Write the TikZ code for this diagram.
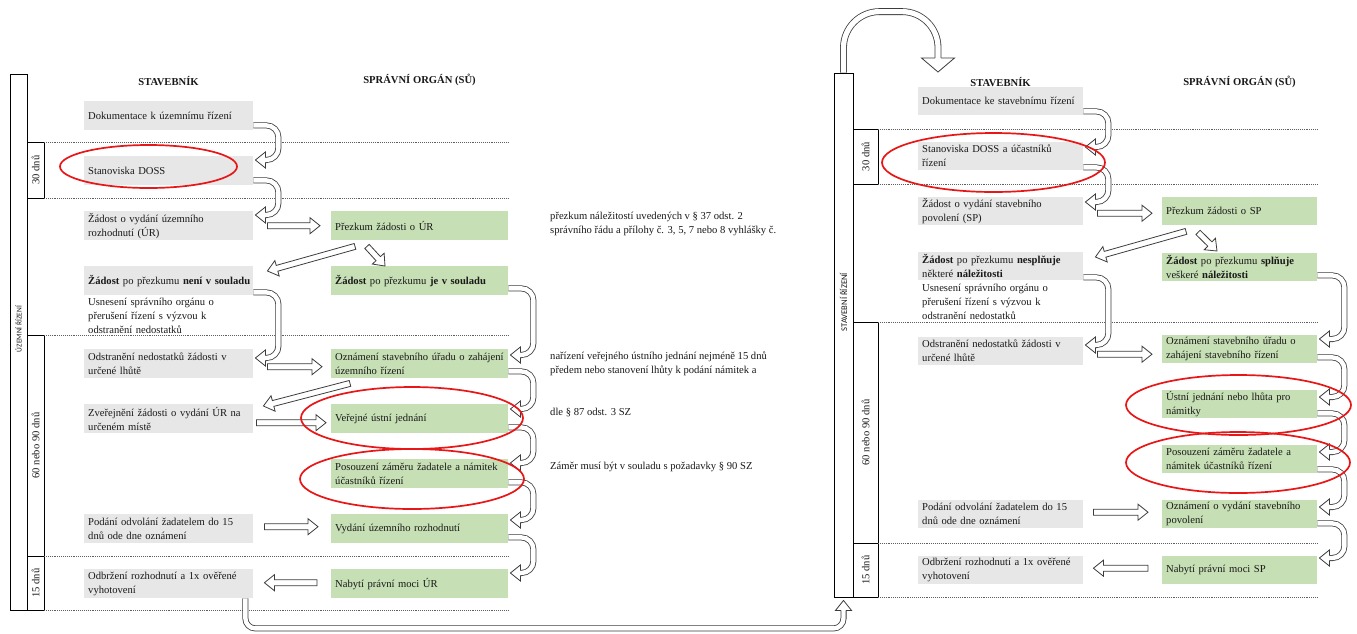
\documentclass[tikz,border=0pt]{standalone}
\usepackage{fontspec}
\setmainfont{Liberation Serif}
\newfontfamily\lblfont{Carlito}
\usetikzlibrary{calc}

\definecolor{boxgray}{RGB}{231,231,231}
\definecolor{boxgreen}{RGB}{198,223,180}
\definecolor{acol}{RGB}{60,60,60}
\definecolor{txt}{RGB}{25,25,25}
\definecolor{dotcol}{RGB}{95,95,95}
\definecolor{ellred}{RGB}{232,22,22}

% straight block arrow between two named coordinates
\newcommand\blockarrow[2]{%
  \draw[barrow] let \p1=(#1), \p2=(#2),
     \n1={atan2(\y2-\y1,\x2-\x1)}, \n2={veclen(\x2-\x1,\y2-\y1)} in
     (\p1) ++(\n1+90:3pt) -- ++(\n1:\n2*1pt-10pt) -- ++(\n1+90:5pt) -- (\p2)
     -- ++(\n1+218.66:12.806pt) -- ++(\n1+90:5pt) -- ++(\n1+180:\n2*1pt-10pt) -- cycle;
}
% U-shaped arrow from one box to the next one below
\newcommand\hookarrow[3]{%
  \draw[hook] #1 -- ++(#3,0) |- #2;
  \pic[rotate=180] at #2 {ahead};
}

\begin{document}
\begin{tikzpicture}[x=1pt,y=-1pt,
  every node/.style={font=\fontsize{10.6}{14}\selectfont, text=txt},
  lg/.style={fill=boxgray, anchor=north west, inner xsep=4pt, inner ysep=0pt,
             minimum height=29pt, text width=161pt, align=left},
  lgr/.style={lg, fill=boxgreen, text width=169pt},
  rg/.style={lg, minimum height=28pt, text width=157pt},
  rgr/.style={rg, fill=boxgreen, text width=147pt},
  plain/.style={anchor=west, inner xsep=4pt, inner ysep=0pt, align=left},
  note/.style={anchor=west, inner sep=0pt, align=left},
  head/.style={font=\bfseries\fontsize{10.6}{14}\selectfont},
  bar/.style={draw=black, fill=white, line width=0.8pt, inner sep=0pt},
  tbox/.style={bar, rotate=90, minimum height=17pt},
  barlabel/.style={rotate=90, inner sep=0pt},
  dotline/.style={draw=dotcol, line width=0.7pt, dash pattern=on 0.8pt off 1.1pt},
  shaft/.style={draw=acol, line width=0.8pt, double=white, double distance=4.4pt},
  hook/.style={shaft, rounded corners=12pt, shorten >=9pt},
  barrow/.style={draw=acol, fill=white, line width=0.8pt, line join=miter},
  ell/.style={draw=ellred, line width=1.7pt},
  pics/ahead/.style={code={
    \fill[white] (0,0) -- (-10,8) -- (-10,-8) -- cycle;
    \draw[acol, line width=0.8pt, line join=miter]
      (-10,2.6) -- (-10,8) -- (0,0) -- (-10,-8) -- (-10,-2.6);
  }},
  pics/bighead/.style={code={
    \fill[white] (0,0) -- (-14,16.5) -- (-14,-16.5) -- cycle;
    \draw[acol, line width=0.8pt, line join=miter]
      (-14,3.0) -- (-14,16.5) -- (0,0) -- (-14,-16.5) -- (-14,-3.0);
  }},
]
\fill[white] (0,0) rectangle (1357,633);
\useasboundingbox (0,0) rectangle (1357,633);

% ---------------- left panel: územní řízení ----------------
\node[bar, minimum width=17pt, minimum height=536pt] (Lbar) at (18.5,342) {};
\node[barlabel, font=\lblfont\fontsize{7.4}{8}\selectfont] (Llab) at (18.5,329) {ÚZEMNÍ ŘÍZENÍ};
\node[tbox, minimum width=56pt] (L30) at (35.5,170) {30 dnů};
\node[tbox, minimum width=221pt] (L60) at (35.5,445.5) {60 nebo 90 dnů};
\node[tbox, minimum width=54pt] (L15) at (35.5,583) {15 dnů};

\foreach \yy in {142,198,335,556,610}
  \draw[dotline] (44,\yy) -- (508,\yy);

\node[head] (LhS) at (168.5,81) {STAVEBNÍK};
\node[head] (LhO) at (419.5,80) {SPRÁVNÍ ORGÁN (SŮ)};

\node[lg] (Ldok) at (84,101) {Dokumentace k územnímu řízení};
\node[lg] (Lstan) at (84,156) {Stanoviska DOSS};
\node[lg] (Lzad) at (84,211) {Žádost o vydání územního\\rozhodnutí (ÚR)};
\node[lg] (Lnes) at (84,266) {\mbox{\textbf{Žádost} po přezkumu \textbf{není v souladu}}};
\node[plain, text width=161pt] (Luns) at (84,316) {Usnesení správního orgánu o\\přerušení řízení s výzvou k\\odstranění nedostatků};
\node[lg] (Lods) at (84,349) {Odstranění nedostatků žádosti v\\určené lhůtě};
\node[lg] (Lzve) at (84,404) {Zveřejnění žádosti o vydání ÚR na\\určeném místě};
\node[lg] (Lpod) at (84,514) {Podání odvolání žadatelem do 15\\dnů ode dne oznámení};
\node[lg] (Lodb) at (84,569) {Odbržení rozhodnutí a 1x ověřené\\vyhotovení};

\node[lgr] (Lpre) at (331,211) {Přezkum žádosti o ÚR};
\node[lgr] (Lsou) at (331,266) {\textbf{Žádost} po přezkumu \textbf{je v souladu}};
\node[lgr] (Lozn) at (331,349) {Oznámení stavebního úřadu o zahájení\\územního řízení};
\node[lgr] (Lver) at (331,404) {Veřejné ústní jednání};
\node[lgr] (Lpos) at (331,459) {Posouzení záměru žadatele a námitek\\účastníků řízení};
\node[lgr] (Lvyd) at (331,514) {Vydání územního rozhodnutí};
\node[lgr] (Lnab) at (331,569) {Nabytí právní moci ÚR};

\node[note] (N1) at (550,223.5) {přezkum náležitostí uvedených v § 37 odst. 2\\správního řádu a přílohy č. 3, 5, 7 nebo 8 vyhlášky č.};
\node[note] (N2) at (550,363.5) {nařízení veřejného ústního jednání nejméně 15 dnů\\předem nebo stanovení lhůty k podání námitek a};
\node[note] (N3) at (550,412) {dle § 87 odst. 3 SZ};
\node[note] (N4) at (550,467) {Záměr musí být v souladu s požadavky § 90 SZ};

% hooks in the applicant column
\hookarrow{([yshift=5pt]Ldok.south east)}{([xshift=2pt,yshift=-4pt]Lstan.north east)}{25}
\hookarrow{([yshift=5pt]Lstan.south east)}{([xshift=2pt,yshift=-4pt]Lzad.north east)}{25}
\hookarrow{([yshift=3pt]Lnes.south east)}{([xshift=2pt,yshift=-9pt]Lods.north east)}{25}
% hooks in the authority column
\hookarrow{([yshift=7pt]Lsou.south east)}{([xshift=2pt,yshift=-6pt]Lozn.north east)}{25}
\hookarrow{([yshift=7pt]Lozn.south east)}{([xshift=2pt,yshift=-5pt]Lver.north east)}{25}
\hookarrow{([yshift=6pt]Lver.south east)}{([xshift=2pt,yshift=-4pt]Lpos.north east)}{25}
\hookarrow{([yshift=6pt]Lpos.south east)}{([xshift=2pt,yshift=-6pt]Lvyd.north east)}{25}
\hookarrow{([yshift=6pt]Lvyd.south east)}{([xshift=2pt,yshift=-4pt]Lnab.north east)}{25}

% straight arrows between the columns
\coordinate (s1a) at ([xshift=14pt]Lzad.east);
\coordinate (s1b) at ([xshift=-11pt]Lpre.west);
\coordinate (s2a) at ([xshift=14pt,yshift=-3pt]Lods.east);
\coordinate (s2b) at ([xshift=-9pt,yshift=-3pt]Lozn.west);
\coordinate (s3a) at ([xshift=3pt,yshift=-4pt]Lzve.east);
\coordinate (s3b) at ([xshift=-5pt,yshift=-4pt]Lver.west);
\coordinate (s4a) at ([xshift=11pt,yshift=2pt]Lpod.east);
\coordinate (s4b) at ([xshift=-13pt,yshift=2pt]Lvyd.west);
\coordinate (s5a) at ([xshift=-14pt,yshift=1pt]Lnab.west);
\coordinate (s5b) at ([xshift=11pt,yshift=1pt]Lodb.east);
\coordinate (d1a) at ([xshift=24pt,yshift=-6pt]Lpre.south west);
\coordinate (d1b) at ([xshift=14pt,yshift=-5pt]Lnes.north east);
\coordinate (d2a) at ([xshift=36pt,yshift=-6pt]Lpre.south west);
\coordinate (d2b) at ([xshift=54pt]Lsou.north west);
\coordinate (d3a) at ([xshift=19pt,yshift=-5pt]Lozn.south west);
\coordinate (d3b) at ([xshift=10pt,yshift=-2pt]Lzve.north east);
\blockarrow{s1a}{s1b}
\blockarrow{s2a}{s2b}
\blockarrow{s3a}{s3b}
\blockarrow{s4a}{s4b}
\blockarrow{s5a}{s5b}
\blockarrow{d1a}{d1b}
\blockarrow{d2a}{d2b}
\blockarrow{d3a}{d3b}

% ---------------- right panel: stavební řízení ----------------
\node[bar, minimum width=19pt, minimum height=524pt] (Rbar) at (843.5,335) {};
\node[barlabel, font=\lblfont\fontsize{8.6}{9}\selectfont] (Rlab) at (843.5,302) {STAVEBNÍ ŘÍZENÍ};
\node[tbox, minimum width=55pt, minimum height=25pt] (R30) at (865.5,156.5) {30 dnů};
\node[tbox, minimum width=221pt, minimum height=25pt] (R60) at (865.5,432.5) {60 nebo 90 dnů};
\node[tbox, minimum width=54pt, minimum height=25pt] (R15) at (865.5,570) {15 dnů};

\foreach \yy in {129,184,322,543,597}
  \draw[dotline] (878,\yy) -- (1317,\yy);

\node[head] (RhS) at (1000.5,82) {STAVEBNÍK};
\node[head] (RhO) at (1239.5,82) {SPRÁVNÍ ORGÁN (SŮ)};

\node[rg] (Rdok) at (918,87) {Dokumentace ke stavebnímu řízení};
\node[rg] (Rstan) at (918,142) {Stanoviska DOSS a účastníků\\řízení};
\node[rg] (Rzad) at (918,197) {Žádost o vydání stavebního\\povolení (SP)};
\node[rg] (Rnes) at (918,252) {\textbf{Žádost} po přezkumu \textbf{nesplňuje}\\některé \textbf{náležitosti}};
\node[plain, text width=157pt] (Runs) at (918,302) {Usnesení správního orgánu o\\přerušení řízení s výzvou k\\odstranění nedostatků};
\node[rg] (Rods) at (918,337) {Odstranění nedostatků žádosti v\\určené lhůtě};
\node[rg] (Rpod) at (918,500) {Podání odvolání žadatelem do 15\\dnů ode dne oznámení};
\node[rg] (Rodb) at (918,556) {Odbržení rozhodnutí a 1x ověřené\\vyhotovení};

\node[rgr] (Rpre) at (1162,197) {Přezkum žádosti o SP};
\node[rgr] (Rspl) at (1162,253) {\textbf{Žádost} po přezkumu \textbf{splňuje}\\veškeré \textbf{náležitosti}};
\node[rgr] (Rozn) at (1162,335) {Oznámení stavebního úřadu o\\zahájení stavebního řízení};
\node[rgr] (Rust) at (1162,390) {Ústní jednání nebo lhůta pro\\námitky};
\node[rgr] (Rpos) at (1162,445) {Posouzení záměru žadatele a\\námitek účastníků řízení};
\node[rgr] (Rvyd) at (1162,500) {Oznámení o vydání stavebního\\povolení};
\node[rgr] (Rnab) at (1162,556) {Nabytí právní moci SP};

\hookarrow{([yshift=4pt]Rdok.south east)}{([xshift=2pt,yshift=-5pt]Rstan.north east)}{25}
\hookarrow{([yshift=3pt]Rstan.south east)}{([xshift=2pt,yshift=-5pt]Rzad.north east)}{25}
\hookarrow{([yshift=3pt]Rnes.south east)}{([xshift=2pt,yshift=-8pt]Rods.north east)}{25}
\hookarrow{([yshift=6pt]Rspl.south east)}{([xshift=2pt,yshift=-4pt]Rozn.north east)}{27}
\hookarrow{([yshift=6pt]Rozn.south east)}{([xshift=2pt,yshift=-7pt]Rust.north east)}{27}
\hookarrow{([yshift=5pt]Rust.south east)}{([xshift=2pt,yshift=-7pt]Rpos.north east)}{27}
\hookarrow{([yshift=4pt]Rpos.south east)}{([xshift=2pt,yshift=-7pt]Rvyd.north east)}{27}
\hookarrow{([yshift=5pt]Rvyd.south east)}{([xshift=2pt,yshift=-2pt]Rnab.north east)}{27}

\coordinate (t1a) at ([xshift=14pt,yshift=-2pt]Rzad.east);
\coordinate (t1b) at ([xshift=-10pt,yshift=-2pt]Rpre.west);
\coordinate (t2a) at ([xshift=14pt,yshift=-3pt]Rods.east);
\coordinate (t2b) at ([xshift=-10pt,yshift=-5pt]Rozn.west);
\coordinate (t3a) at ([xshift=10pt,yshift=2pt]Rpod.east);
\coordinate (t3b) at ([xshift=-14pt,yshift=2pt]Rvyd.west);
\coordinate (t4a) at ([xshift=-14pt,yshift=2pt]Rnab.west);
\coordinate (t4b) at ([xshift=10pt,yshift=2pt]Rodb.east);
\coordinate (e1a) at ([xshift=24pt,yshift=-6pt]Rpre.south west);
\coordinate (e1b) at ([xshift=12pt,yshift=-5pt]Rnes.north east);
\coordinate (e2a) at ([xshift=36pt,yshift=-7pt]Rpre.south west);
\coordinate (e2b) at ([xshift=55pt,yshift=2pt]Rspl.north west);
\blockarrow{t1a}{t1b}
\blockarrow{t2a}{t2b}
\blockarrow{t3a}{t3b}
\blockarrow{t4a}{t4b}
\blockarrow{e1a}{e1b}
\blockarrow{e2a}{e2b}

% ---------------- links between the two procedures ----------------
\draw[shaft, rounded corners=10pt, shorten >=9pt]
  ([xshift=-8pt]Lodb.south east) -- ++(0,30) -| ([yshift=-3pt]Rbar.south);
\pic[rotate=90] at ([yshift=-3pt]Rbar.south) {ahead};

\coordinate (topend) at (938,72);
\draw[shaft, double distance=5.2pt, rounded corners=36pt, shorten >=13pt]
  (Rbar.north) -- ++(0,-61) -| (topend);
\pic[rotate=-90] at (topend) {bighead};

% ---------------- highlighted steps ----------------
\draw[ell] (148.5,166.5) ellipse [x radius=88.5, y radius=21.5];
\draw[ell] (412,418) ellipse [x radius=111, y radius=31];
\draw[ell] (412,479) ellipse [x radius=112, y radius=30];
\draw[ell] (993.5,162.5) ellipse [x radius=111.5, y radius=29.5];
\draw[ell] (1238.5,405) ellipse [x radius=112.5, y radius=30];
\draw[ell] (1238,462.5) ellipse [x radius=112, y radius=30.5];
\end{tikzpicture}
\end{document}
